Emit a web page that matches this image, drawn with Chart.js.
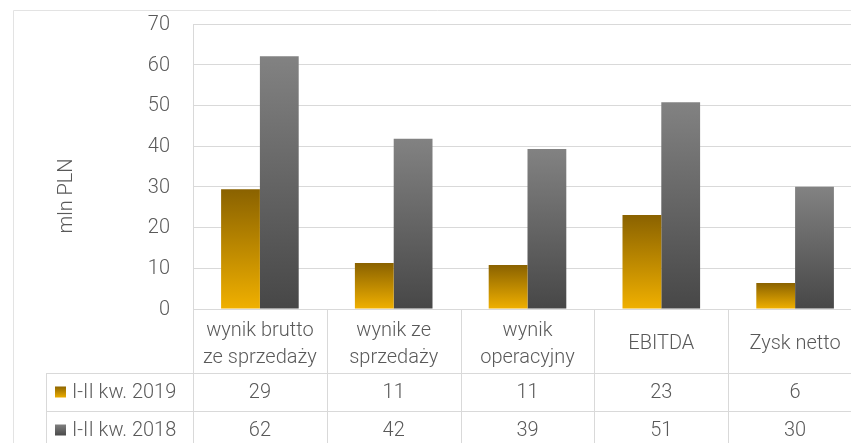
<!DOCTYPE html>
<html>
<head>
<meta charset="utf-8">
<script src="https://cdn.jsdelivr.net/npm/chart.js@4"></script>
<style>
  html, body { margin: 0; padding: 0; background: #fff; overflow: hidden; }
  #wrap { position: absolute; left: 0; top: 0; width: 862px; height: 443px; }
</style>
</head>
<body>
<div id="wrap"><canvas id="chart"></canvas></div>
<script>
// dane
const categories = [['wynik brutto', 'ze sprzedaży'], ['wynik ze', 'sprzedaży'], ['wynik', 'operacyjny'], 'EBITDA', 'Zysk netto'];
const seriesNames = ['I-II kw. 2019', 'I-II kw. 2018'];
const values2019 = [29.4, 11.3, 10.8, 23.1, 6.4];
const values2018 = [62.1, 41.8, 39.3, 50.8, 30.0];
const yTicks = [0, 10, 20, 30, 40, 50, 60, 70];
const yTitle = 'mln PLN';

const FONT = '"Roboto Light", Roboto, "Noto Sans", sans-serif';
const TEXT = '#595959';
const GRID = '#d9d9d9';
const gradColors = [['#8a6200', '#f0b000'], ['#828282', '#474747']];

// gradient dla każdego słupka osobno
const barGradient = (idx) => (ctx) => {
    const chart = ctx.chart;
    const [c1, c2] = gradColors[idx];
    if (!chart.chartArea || ctx.type !== 'data') return c2;
    const y = chart.scales.y;
    const top = y.getPixelForValue(ctx.raw);
    const bottom = y.getPixelForValue(0);
    const g = chart.ctx.createLinearGradient(0, top, 0, bottom);
    g.addColorStop(0, c1);
    g.addColorStop(1, c2);
    return g;
};

// tabela danych pod wykresem
const tablePlugin = {
    id: 'dataTable',
    afterDraw(chart) {
        const c = chart.ctx;
        const area = chart.chartArea;
        const xs = chart.scales.x;
        const H = chart.height;
        const rowTop = [373, 411];
        const rowH = 37;
        const legendLeft = 46;

        const bounds = [area.left];
        for (let i = 0; i < categories.length - 1; i++) {
            bounds.push((xs.getPixelForValue(i) + xs.getPixelForValue(i + 1)) / 2);
        }
        bounds.push(area.right);

        c.save();
        c.lineWidth = 1;
        // ramka całego wykresu
        c.strokeStyle = '#e3e3e3';
        c.beginPath();
        c.moveTo(13.5, H);
        c.lineTo(13.5, 10.5);
        c.lineTo(chart.width, 10.5);
        c.stroke();

        c.strokeStyle = GRID;
        c.beginPath();
        bounds.forEach(b => {
            const x = Math.round(b) + 0.5;
            c.moveTo(x, area.bottom);
            c.lineTo(x, H);
        });
        c.moveTo(legendLeft + 0.5, rowTop[0]);
        c.lineTo(legendLeft + 0.5, H);
        rowTop.forEach(t => {
            c.moveTo(legendLeft, t + 0.5);
            c.lineTo(area.right, t + 0.5);
        });
        c.stroke();

        const series = [values2019, values2018];
        c.font = '300 20px ' + FONT;
        c.fillStyle = TEXT;
        c.textBaseline = 'middle';
        series.forEach((vals, r) => {
            const cy = rowTop[r] + rowH / 2 + 0.5;
            c.textAlign = 'center';
            c.fillStyle = TEXT;
            vals.forEach((v, i) => {
                c.fillText(String(Math.round(v)), xs.getPixelForValue(i), cy);
            });
            // znacznik legendy
            const g = c.createLinearGradient(0, cy - 6, 0, cy + 6);
            g.addColorStop(0, gradColors[r][0]);
            g.addColorStop(1, gradColors[r][1]);
            c.fillStyle = g;
            c.fillRect(55, cy - 5.5, 11, 11);
            c.fillStyle = TEXT;
            c.textAlign = 'left';
            c.fillText(seriesNames[r], 72, cy);
        });

        // tytuł osi Y
        c.save();
        c.translate(66, 196);
        c.rotate(-Math.PI / 2);
        c.textAlign = 'center';
        c.fillText(yTitle, 0, 0);
        c.restore();
        c.restore();
    }
};

new Chart(document.getElementById('chart'), {
    type: 'bar',
    data: {
        labels: categories,
        datasets: [
            { label: seriesNames[0], data: values2019, backgroundColor: barGradient(0) },
            { label: seriesNames[1], data: values2018, backgroundColor: barGradient(1) }
        ]
    },
    options: {
        responsive: true,
        maintainAspectRatio: false,
        animation: false,
        layout: { padding: { top: 24, right: 0, bottom: 70, left: 0 } },
        datasets: { bar: { categoryPercentage: 0.58, barPercentage: 1.0 } },
        plugins: { legend: { display: false }, tooltip: { enabled: false } },
        scales: {
            x: {
                grid: { display: false, drawTicks: false },
                border: { display: true, color: GRID },
                ticks: {
                    color: TEXT,
                    font: { family: FONT, size: 20, weight: 300, lineHeight: 1.35 },
                    padding: 21,
                    crossAlign: 'center',
                    maxRotation: 0,
                    autoSkip: false
                },
                afterFit: (s) => { s.height = 64; }
            },
            y: {
                min: 0,
                max: 70,
                afterBuildTicks: (s) => { s.ticks = yTicks.map(v => ({ value: v })); },
                grid: { color: GRID, drawTicks: true, tickLength: 23, tickColor: 'rgba(0,0,0,0)' },
                border: { display: true, color: GRID },
                ticks: {
                    color: TEXT,
                    font: { family: FONT, size: 20, weight: 300 },
                    padding: 0
                },
                afterFit: (s) => { s.width = 193; }
            }
        }
    },
    plugins: [tablePlugin]
});
</script>
</body>
</html>
